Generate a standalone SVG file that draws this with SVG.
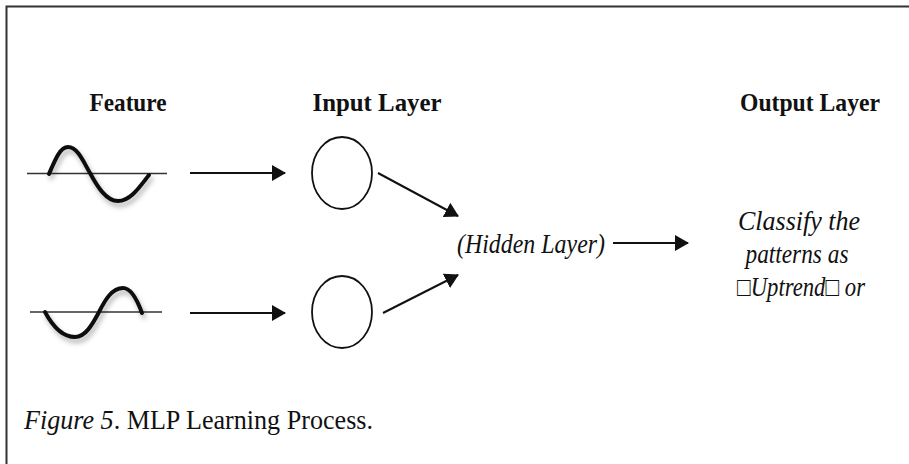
<svg xmlns="http://www.w3.org/2000/svg" width="909" height="464" viewBox="0 0 909 464">
<style>
.head{font-family:"Liberation Serif","Times New Roman",serif;font-weight:bold;font-size:26px;fill:#111;text-anchor:middle}
.it{font-family:"Liberation Serif","Times New Roman",serif;font-style:italic;font-size:27px;fill:#111}
.cap{font-family:"Liberation Serif","Times New Roman",serif;font-size:27px;fill:#111}
.base{stroke:#333;stroke-width:1.5;fill:none}
.wave{stroke:#111;stroke-width:4;fill:none;stroke-linecap:round}
.node{stroke:#111;stroke-width:1.8;fill:#fff}
.conn{stroke:#111;stroke-width:2;fill:none}
</style>
<defs>
<marker id="ah" viewBox="0 0 14 16" refX="13" refY="8" markerWidth="14" markerHeight="16" markerUnits="userSpaceOnUse" orient="auto">
<path d="M0,0 L14,8 L0,16 Z" fill="#111"/>
</marker>
<filter id="sh" x="-20%" y="-20%" width="140%" height="160%">
<feDropShadow dx="2" dy="4" stdDeviation="2.5" flood-color="#000" flood-opacity="0.3"/>
</filter>
</defs>
<rect width="909" height="464" fill="#fff"/>
<path d="M6.5,464 L6.5,6.5 L909,6.5" stroke="#333" stroke-width="2" fill="none"/>
<g id="headings">
<text class="head" x="128" y="111" textLength="77" lengthAdjust="spacingAndGlyphs">Feature</text>
<text class="head" x="377" y="111" textLength="129" lengthAdjust="spacingAndGlyphs">Input Layer</text>
<text class="head" x="810" y="111" textLength="140" lengthAdjust="spacingAndGlyphs">Output Layer</text>
</g>
<g id="feature1">
<line class="base" x1="27" y1="173.5" x2="167" y2="173.5"/>
<path class="wave" filter="url(#sh)" d="M49,174 C55,160 60,147 68,147 C78,147 84,163 90,173 C97,186 106,201 118,201 C131,201 141,185 149,175"/>
</g>
<g id="feature2">
<line class="base" x1="30" y1="312" x2="162" y2="312"/>
<path class="wave" filter="url(#sh)" d="M45,312 C52,325 62,337 75,337 C86,337 93,323 99,312 C105,300 112,288 123,288 C132,288 138,302 142,313"/>
</g>
<g id="input1"><ellipse class="node" cx="342" cy="173" rx="30" ry="36"/></g>
<g id="input2"><ellipse class="node" cx="342" cy="312" rx="30" ry="36"/></g>
<g id="hidden"><text class="it" x="457" y="253" textLength="148" lengthAdjust="spacingAndGlyphs">(Hidden Layer)</text></g>
<g id="output">
<text class="it" x="799" y="230" text-anchor="middle" textLength="122" lengthAdjust="spacingAndGlyphs">Classify the</text>
<text class="it" x="797" y="263" text-anchor="middle" textLength="103" lengthAdjust="spacingAndGlyphs">patterns as</text>
<text class="it" x="801" y="296" text-anchor="middle" textLength="128" lengthAdjust="spacingAndGlyphs">□Uptrend□ or</text>
</g>
<g id="connectors">
<line class="conn" x1="190" y1="173" x2="285" y2="173" marker-end="url(#ah)"/>
<line class="conn" x1="190" y1="313" x2="285" y2="313" marker-end="url(#ah)"/>
<line class="conn" x1="378" y1="173" x2="458" y2="216" marker-end="url(#ah)"/>
<line class="conn" x1="383" y1="313" x2="458" y2="275" marker-end="url(#ah)"/>
<line class="conn" x1="613" y1="243" x2="688" y2="243" marker-end="url(#ah)"/>
</g>
<g id="caption">
<text class="cap" x="24" y="429" textLength="349" lengthAdjust="spacingAndGlyphs"><tspan font-style="italic">Figure 5</tspan>. MLP Learning Process.</text>
</g>
</svg>
